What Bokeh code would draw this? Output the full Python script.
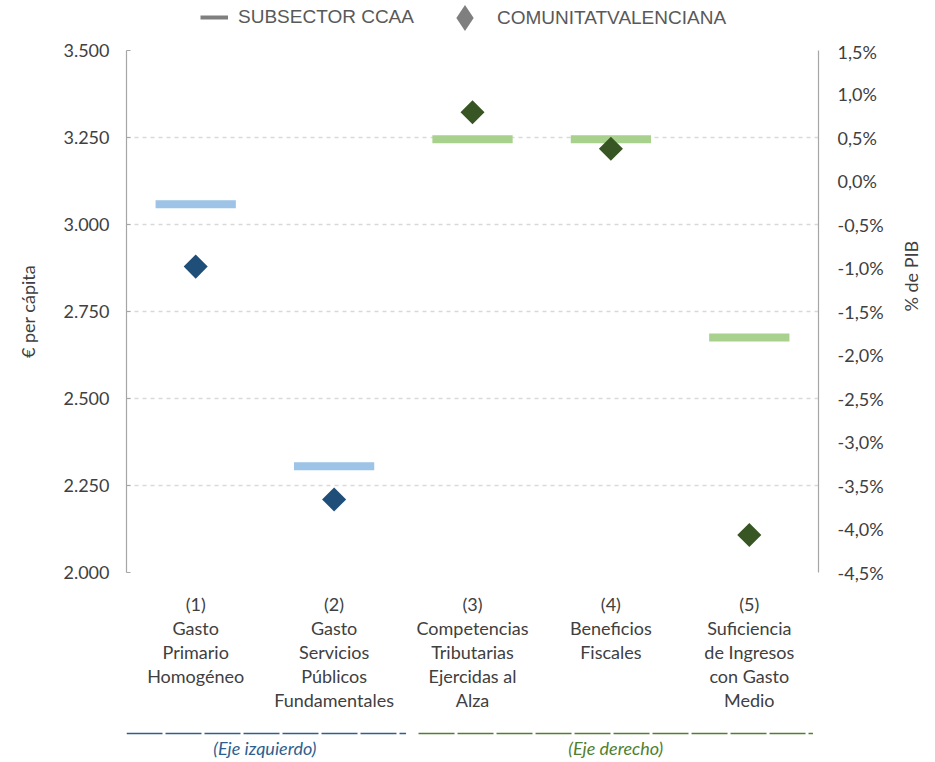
import math
from bokeh.plotting import figure
from bokeh.models import FactorRange, Range1d, LinearAxis, FixedTicker, Legend, LegendItem
from bokeh.layouts import column
from bokeh.embed import file_html
from bokeh.resources import INLINE
from bokeh.core.properties import value

# ---------------- data ----------------
categories = [
    "(1)\nGasto\nPrimario\nHomogéneo",
    "(2)\nGasto\nServicios\nPúblicos\nFundamentales",
    "(3)\nCompetencias\nTributarias\nEjercidas al\nAlza",
    "(4)\nBeneficios\nFiscales",
    "(5)\nSuficiencia\nde Ingresos\ncon Gasto\nMedio",
]
# left axis (€ per cápita)
left_categories = categories[:2]
subsector_left = [3058, 2305]
comunitat_left = [2879, 2210]
# right axis (% de PIB)
right_categories = categories[2:]
subsector_right = [0.48, 0.48, -1.80]
comunitat_right = [0.79, 0.37, -4.07]

left_ticks = [2000, 2250, 2500, 2750, 3000, 3250, 3500]
left_tick_labels = ["2.000", "2.250", "2.500", "2.750", "3.000", "3.250", "3.500"]
right_ticks = [-4.5, -4.0, -3.5, -3.0, -2.5, -2.0, -1.5, -1.0, -0.5, 0.0, 0.5, 1.0, 1.5]
right_tick_labels = ["-4,5%", "-4,0%", "-3,5%", "-3,0%", "-2,5%", "-2,0%", "-1,5%",
                     "-1,0%", "-0,5%", "0,0%", "0,5%", "1,0%", "1,5%"]

legend_labels = ["SUBSECTOR CCAA", "COMUNITATVALENCIANA"]
axis_groups = ["(Eje izquierdo)", "(Eje derecho)"]
left_axis_title = "€ per cápita"
right_axis_title = "% de PIB"

# ---------------- style ----------------
FONT = "Lato"
FS = "18px"
TXT = "#404040"
BLUE_LINE = "#9DC3E6"
GREEN_LINE = "#A9D18E"
BLUE_MARK = "#1F4E79"
GREEN_MARK = "#375623"
GREY = "#7F7F7F"

W, H0, H1, H2 = 935, 40, 690, 32
BL, BR = 126, 117

# ---------------- legend band ----------------
p0 = figure(x_range=Range1d(0, 1), y_range=Range1d(0, 1), width=W, height=H0,
            output_backend="svg", toolbar_location=None, x_axis_location=None, y_axis_location=None,
            min_border_left=BL, min_border_right=BR, min_border_top=0, min_border_bottom=0,
            outline_line_color=None)
p0.grid.visible = False
nan = float("nan")
leg_line = p0.line(x=[nan, nan], y=[nan, nan], line_color=GREY, line_width=4)
leg_mark = p0.scatter(x=[nan], y=[nan], marker="diamond", size=18,
                      fill_color=GREY, line_color=None)
common = dict(orientation="horizontal", padding=0, margin=0, border_line_color=None,
              background_fill_alpha=0, label_text_font="Liberation Sans",
              label_text_font_size="19px", label_text_color="#595959", label_height=20)
leg1 = Legend(items=[LegendItem(label=legend_labels[0], renderers=[leg_line])],
              location=(74, 12), glyph_width=28, glyph_height=20, label_standoff=10, **common)
leg2 = Legend(items=[LegendItem(label=legend_labels[1], renderers=[leg_mark])],
              location=(306, -10), glyph_width=65, glyph_height=65, label_standoff=-6, **common)
p0.add_layout(leg1)
p0.add_layout(leg2)

# ---------------- main chart ----------------
p = figure(x_range=FactorRange(factors=categories), y_range=Range1d(left_ticks[0], left_ticks[-1]),
           width=W, height=H1, output_backend="svg", toolbar_location=None,
           min_border_left=BL, min_border_right=BR, min_border_top=10, min_border_bottom=158,
           outline_line_color=None, y_axis_location=None)
p.extra_y_ranges = {"pct": Range1d(right_ticks[0], right_ticks[-1])}

ax_l = LinearAxis(ticker=FixedTicker(ticks=left_ticks),
                  major_label_overrides=dict(zip(left_ticks, left_tick_labels)))
ax_r = LinearAxis(y_range_name="pct", ticker=FixedTicker(ticks=right_ticks),
                  major_label_overrides=dict(zip(right_ticks, right_tick_labels)))
for ax, st in ((ax_l, 17), (ax_r, 19)):
    ax.axis_line_color = "#A6A6A6"
    ax.axis_line_width = 1.2
    ax.major_tick_line_color = "#A6A6A6"
    ax.major_tick_in = 0
    ax.major_tick_out = 0
    ax.minor_tick_line_color = None
    ax.major_label_standoff = st
    ax.major_label_text_font = FONT
    ax.major_label_text_font_size = FS
    ax.major_label_text_color = TXT
    ax.axis_label_text_font = FONT
    ax.axis_label_text_font_size = FS
    ax.axis_label_text_font_style = "normal"
    ax.axis_label_text_color = TXT
ax_l.major_tick_in = 4
ax_l.axis_label = left_axis_title
ax_l.axis_label_standoff = 21
ax_r.axis_label = right_axis_title
ax_r.axis_label_standoff = 24
if "axis_label_orientation" in ax_r.properties():
    ax_r.axis_label_orientation = math.pi / 2
p.add_layout(ax_l, "left")
p.add_layout(ax_r, "right")

p.xaxis.axis_line_color = None
p.xaxis.major_tick_line_color = None
p.xaxis.minor_tick_line_color = None
p.xaxis.major_label_standoff = 14
p.xaxis.major_label_text_font = FONT
p.xaxis.major_label_text_font_size = FS
p.xaxis.major_label_text_color = TXT
p.xaxis.major_label_text_line_height = 1.1

p.xgrid.grid_line_color = None
p.ygrid.ticker = FixedTicker(ticks=left_ticks[1:-1])
p.ygrid.grid_line_color = "#D9D9D9"
p.ygrid.grid_line_dash = "4 4"
p.ygrid.grid_line_width = 1.3

p.rect(x=left_categories, y=subsector_left, width=0.58, height=8, height_units="screen",
       fill_color=BLUE_LINE, line_color=None)
p.rect(x=right_categories, y=subsector_right, width=0.58, height=8, height_units="screen",
       fill_color=GREEN_LINE, line_color=None, y_range_name="pct")
p.scatter(x=left_categories, y=comunitat_left, marker="square", angle=math.pi / 4, size=17,
          fill_color=BLUE_MARK, line_color=None)
p.scatter(x=right_categories, y=comunitat_right, marker="square", angle=math.pi / 4, size=17,
          fill_color=GREEN_MARK, line_color=None, y_range_name="pct")

# ---------------- bottom band: axis groups ----------------
n_left = len(left_categories)
n_all = len(categories)
p2 = figure(x_range=Range1d(0, n_all), y_range=Range1d(H2, 0), width=W, height=H2,
            output_backend="svg", toolbar_location=None, x_axis_location=None, y_axis_location=None,
            min_border_left=BL, min_border_right=BR, min_border_top=0, min_border_bottom=0,
            outline_line_color=None)
p2.grid.visible = False
g_x0 = [0.0, n_left + 0.11]
g_x1 = [n_left + 0.02, n_all - 0.04]
g_mid = [1.0, (g_x0[1] + g_x1[1]) / 2]
p2.segment(x0=g_x0, x1=g_x1, y0=[3, 3], y1=[3, 3], line_color=["#2F5F8F", "#4F7F2F"],
           line_width=1.6, line_dash="36 3")
p2.text(x=g_mid, y=[17, 17], text=axis_groups, text_align="center", text_baseline="middle",
        text_font=value(FONT), text_font_style="italic", text_font_size=FS,
        text_color=["#2F5F8F", "#4F7F2F"])

layout = column(p0, p, p2, spacing=0)
open("out.html", "w").write(file_html(layout, INLINE))
